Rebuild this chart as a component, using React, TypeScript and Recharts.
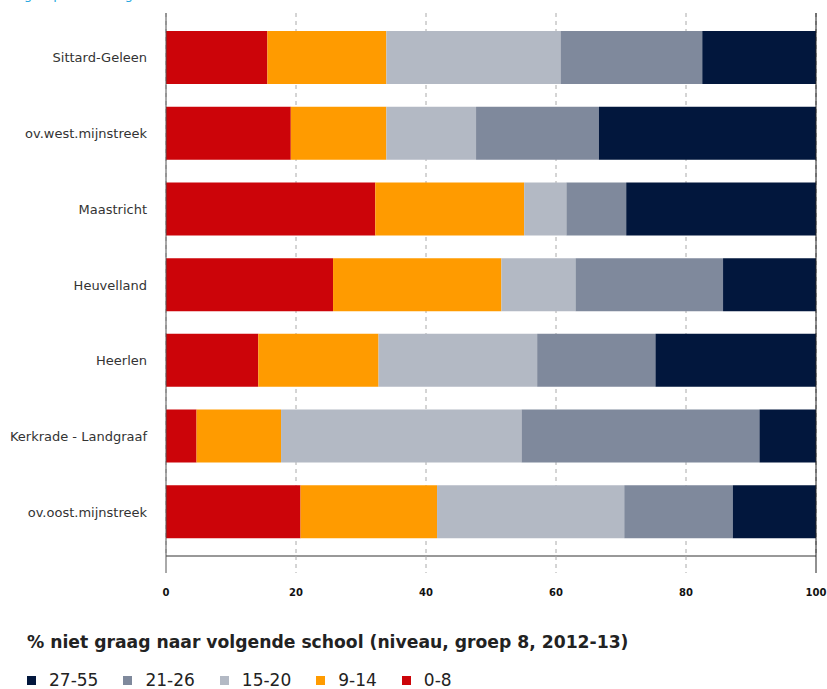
import React from 'react'
import { BarChart, Bar, XAxis, YAxis, CartesianGrid, ReferenceLine } from 'recharts'

const regions = [
  'Sittard-Geleen',
  'ov.west.mijnstreek',
  'Maastricht',
  'Heuvelland',
  'Heerlen',
  'Kerkrade - Landgraaf',
  'ov.oost.mijnstreek',
]

// share of pupils per class (%), same order as regions
const klasse0_8 = [15.6, 19.2, 32.2, 25.7, 14.2, 4.7, 20.7]
const klasse9_14 = [18.3, 14.7, 22.9, 25.9, 18.5, 13.0, 21.0]
const klasse15_20 = [26.8, 13.8, 6.5, 11.4, 24.4, 37.0, 28.8]
const klasse21_26 = [21.8, 18.9, 9.2, 22.7, 18.2, 36.6, 16.7]
const klasse27_55 = [17.5, 33.4, 29.2, 14.3, 24.7, 8.7, 12.8]

const xTicks = [0, 20, 40, 60, 80, 100]

const series = [
  { key: 'k0_8', label: '0-8', color: '#cc0409', values: klasse0_8 },
  { key: 'k9_14', label: '9-14', color: '#ff9b00', values: klasse9_14 },
  { key: 'k15_20', label: '15-20', color: '#b3b9c4', values: klasse15_20 },
  { key: 'k21_26', label: '21-26', color: '#7f899c', values: klasse21_26 },
  { key: 'k27_55', label: '27-55', color: '#02173d', values: klasse27_55 },
]

const data = regions.map((region, i) => {
  const row: Record<string, string | number> = { region }
  series.forEach((s) => {
    row[s.key] = s.values[i]
  })
  return row
})

const font = '"DejaVu Sans", Verdana, sans-serif'

const XTick = (props: any) => {
  const { x, y, payload } = props
  const v = payload.value
  const edge = v === 0 || v === 100
  return (
    <g>
      <line
        x1={x}
        x2={x}
        y1={y}
        y2={y + 17}
        stroke={edge ? (v === 0 ? '#555' : '#222') : '#aaa'}
        strokeDasharray={edge ? undefined : '4 4'}
      />
      <text x={x} y={y + 36} dy="0.35em" textAnchor="middle" fontSize={10} fontWeight="bold" fill="#111" fontFamily={font}>
        {v}
      </text>
    </g>
  )
}

export default function App() {
  return (
    <div style={{ position: 'absolute', left: 0, top: 0, width: 827, height: 689, overflow: 'hidden', background: '#fff', fontFamily: font }}>
      <div style={{ position: 'absolute', left: 24, top: -13, fontSize: 13, lineHeight: '15px', color: '#29a8e0', whiteSpace: 'nowrap' }}>
        groep 8 naar regio
      </div>
      <BarChart
        width={827}
        height={610}
        data={data}
        layout="vertical"
        margin={{ top: 13, right: 11, bottom: 10, left: 0 }}
      >
        <CartesianGrid horizontal={false} strokeDasharray="4 4" stroke="#aaa" />
        <XAxis
          type="number"
          domain={[0, 100]}
          ticks={xTicks}
          interval={0}
          height={44}
          tickSize={0}
          tickMargin={0}
          tickLine={false}
          axisLine={{ stroke: '#333' }}
          tick={<XTick />}
        />
        <YAxis
          type="category"
          dataKey="region"
          width={166}
          padding={{ top: 7, bottom: 6 }}
          tickLine={false}
          tickSize={6}
          tickMargin={13}
          axisLine={{ stroke: '#555' }}
          tick={{ fontSize: 13, fill: '#333', fontFamily: font }}
        />
        {series.map((s) => (
          <Bar key={s.key} dataKey={s.key} stackId="a" fill={s.color} barSize={53} isAnimationActive={false} />
        ))}
        <ReferenceLine x={100} stroke="#222" />
      </BarChart>
      <div style={{ position: 'absolute', left: 27, top: 632, fontSize: 17.2, fontWeight: 'bold', color: '#222', whiteSpace: 'nowrap' }}>
        % niet graag naar volgende school (niveau, groep 8, 2012-13)
      </div>
      <div style={{ position: 'absolute', left: 27, top: 670, display: 'flex', alignItems: 'center', fontSize: 17, color: '#222', whiteSpace: 'nowrap' }}>
        {[...series].reverse().map((s) => (
          <div key={s.key} style={{ display: 'flex', alignItems: 'center', marginRight: 25 }}>
            <span style={{ display: 'inline-block', width: 9, height: 9, background: s.color, marginRight: 13 }} />
            <span>{s.label}</span>
          </div>
        ))}
      </div>
    </div>
  )
}
